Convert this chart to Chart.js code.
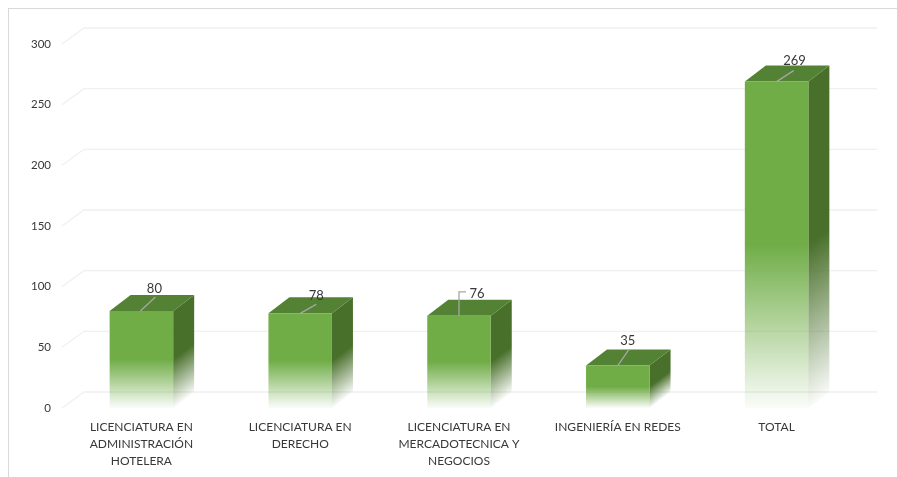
<!DOCTYPE html>
<html>
<head>
<meta charset="utf-8">
<style>
  html, body { margin: 0; padding: 0; background: #fff; overflow: hidden; }
  #frame { position: absolute; left: 8px; top: 8px; width: 889px; height: 469px;
           border-left: 1px solid #d9d9d9; border-top: 1px solid #d9d9d9; box-sizing: border-box; }
  #chart { position: absolute; left: 0; top: 0; filter: blur(0.4px); }
</style>
<script src="https://cdn.jsdelivr.net/npm/chart.js@4"></script>
</head>
<body>
<div id="frame"></div>
<canvas id="chart" width="897" height="477"></canvas>
<script>
var categories = [
    ["LICENCIATURA EN", "ADMINISTRACIÓN", "HOTELERA"],
    ["LICENCIATURA EN", "DERECHO"],
    ["LICENCIATURA EN", "MERCADOTECNICA Y", "NEGOCIOS"],
    "INGENIERÍA EN REDES",
    "TOTAL"
];
var alumnos = [80, 78, 76, 35, 269];
var tickStep = 50;
var axisMax = 300;

// depth of the fake 3d look
var depthX = 21;
var depthY = 16;
var textColor = '#383838';
var fontName = 'Lato, "Open Sans", sans-serif';

// leader line bends and label spots, relative to the bar's top centre
var leaders = [
    [[-1, 0], [14, -14]],
    [[0, 0], [16, -9]],
    [[0, 0], [0, -24], [7, -24]],
    [[0, 0], [11, -16]],
    [[0, 0], [17, -11]]
];
var labelSpots = [[13, -22], [16, -18], [18, -22], [10, -25], [18, -21]];

function frontGradient(context) {
    var chart = context.chart;
    var y = chart.scales.y;
    if (!y || context.dataIndex === undefined) return '#70ad47';
    var top = y.getPixelForValue(alumnos[context.dataIndex]);
    var base = y.getPixelForValue(0);
    // scale has no size yet on the first pass
    if (!isFinite(top) || !isFinite(base)) return '#70ad47';
    var g = chart.ctx.createLinearGradient(0, top, 0, base);
    g.addColorStop(0, '#70ad47');
    g.addColorStop(0.5, '#70ad47');
    g.addColorStop(1, 'rgba(112,173,71,0.03)');
    return g;
}

var bars3d = {
    id: 'bars3d',
    beforeDatasetsDraw: function(chart) {
        var ctx = chart.ctx;
        var y = chart.scales.y;
        var area = chart.chartArea;
        ctx.save();

        // back wall grid lines with the short diagonal at the left
        ctx.strokeStyle = '#f0f0f0';
        ctx.lineWidth = 1.3;
        y.ticks.forEach(function(t) {
            var py = y.getPixelForValue(t.value);
            ctx.beginPath();
            ctx.moveTo(area.left, py);
            ctx.lineTo(area.left + depthX + 1, py - depthY);
            ctx.lineTo(area.right + depthX, py - depthY);
            ctx.stroke();
        });

        // side and top of every bar
        chart.getDatasetMeta(0).data.forEach(function(bar) {
            var left = bar.x - bar.width / 2;
            var right = bar.x + bar.width / 2;
            var top = bar.y;
            var base = bar.base;

            // fade runs square to the bottom edge of the side face
            var len = Math.sqrt(depthX * depthX + depthY * depthY);
            var reach = (base - top) * depthX / len;
            var g = ctx.createLinearGradient(right, top, right + reach * depthY / len, top + reach * depthX / len);
            g.addColorStop(0, '#49702b');
            g.addColorStop(0.5, '#49702b');
            g.addColorStop(1, 'rgba(73,112,43,0.03)');
            ctx.fillStyle = g;
            ctx.beginPath();
            ctx.moveTo(right, top);
            ctx.lineTo(right + depthX, top - depthY);
            ctx.lineTo(right + depthX, base - depthY);
            ctx.lineTo(right, base);
            ctx.closePath();
            ctx.fill();

            ctx.fillStyle = '#548235';
            ctx.beginPath();
            ctx.moveTo(left, top);
            ctx.lineTo(left + depthX, top - depthY);
            ctx.lineTo(right + depthX, top - depthY);
            ctx.lineTo(right, top);
            ctx.closePath();
            ctx.fill();
        });
        ctx.restore();
    },
    afterDatasetsDraw: function(chart) {
        var ctx = chart.ctx;
        ctx.save();
        chart.getDatasetMeta(0).data.forEach(function(bar, i) {
            ctx.strokeStyle = '#a6a6a6';
            ctx.lineWidth = 1.3;
            ctx.beginPath();
            leaders[i].forEach(function(p, k) {
                if (k === 0) ctx.moveTo(bar.x + p[0], bar.y + p[1]);
                else ctx.lineTo(bar.x + p[0], bar.y + p[1]);
            });
            ctx.stroke();

            ctx.fillStyle = textColor;
            ctx.font = '13px ' + fontName;
            ctx.textAlign = 'center';
            ctx.textBaseline = 'middle';
            ctx.fillText(alumnos[i], bar.x + labelSpots[i][0], bar.y + labelSpots[i][1]);
        });
        ctx.restore();
    }
};

new Chart(document.getElementById('chart'), {
    type: 'bar',
    data: {
        labels: categories,
        datasets: [{
            data: alumnos,
            backgroundColor: frontGradient,
            borderWidth: 0,
            barPercentage: 0.4,
            categoryPercentage: 1
        }]
    },
    options: {
        responsive: false,
        animation: false,
        layout: { padding: { top: 44, right: 41, bottom: 0, left: 0 } },
        plugins: { legend: { display: false }, tooltip: { enabled: false } },
        scales: {
            x: {
                grid: { display: false },
                border: { display: false },
                afterFit: function(scale) { scale.height = 69; },
                ticks: {
                    color: textColor,
                    font: { family: fontName, size: 12, lineHeight: 1.45 },
                    padding: 2,
                    maxRotation: 0,
                    autoSkip: false
                }
            },
            y: {
                min: 0,
                max: axisMax,
                grid: { display: false },
                border: { display: false },
                afterFit: function(scale) { scale.width = 62; },
                ticks: {
                    stepSize: tickStep,
                    color: textColor,
                    font: { family: fontName, size: 11.5 },
                    padding: 3
                }
            }
        }
    },
    plugins: [bars3d]
});
</script>
</body>
</html>
